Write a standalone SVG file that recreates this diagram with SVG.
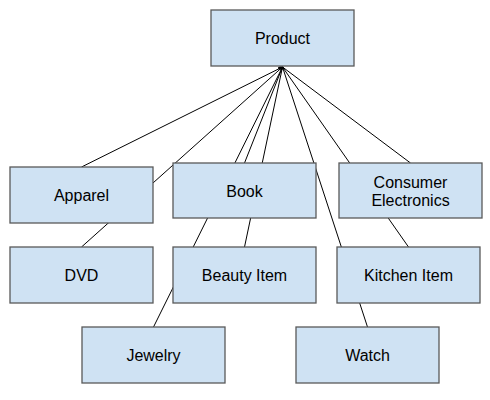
<svg xmlns="http://www.w3.org/2000/svg" width="490" height="400" viewBox="0 0 490 400">
<style>
.box{fill:#cfe2f3;stroke:#595959;stroke-width:1.3}
.lbl{font-family:"Liberation Sans",Arial,sans-serif;font-size:16px;fill:#000;text-anchor:middle}
.edge{stroke:#000;stroke-width:1;fill:none}
</style>
<rect width="490" height="400" fill="#fff"/>
<g id="connectors">
<line class="edge" x1="282.5" y1="67" x2="81.5" y2="167"/>
<line class="edge" x1="282.5" y1="67" x2="81.5" y2="247"/>
<line class="edge" x1="282.5" y1="67" x2="153.5" y2="327"/>
<line class="edge" x1="282.5" y1="67" x2="244.5" y2="163"/>
<line class="edge" x1="282.5" y1="67" x2="244.5" y2="247"/>
<line class="edge" x1="282.5" y1="67" x2="367.5" y2="327"/>
<line class="edge" x1="282.5" y1="67" x2="408.5" y2="247"/>
<line class="edge" x1="282.5" y1="67" x2="410.5" y2="163"/>
<ellipse cx="281" cy="68" rx="3" ry="1.8" fill="#000"/>
</g>
<g id="product"><rect class="box" x="211" y="10" width="143" height="56"/><text class="lbl" x="282.5" y="44">Product</text></g>
<g id="apparel"><rect class="box" x="10" y="167" width="143" height="56"/><text class="lbl" x="81.5" y="201">Apparel</text></g>
<g id="book"><rect class="box" x="173" y="163" width="143" height="55"/><text class="lbl" x="244.5" y="196.5">Book</text></g>
<g id="consumer-electronics"><rect class="box" x="339" y="163" width="143" height="55"/><text class="lbl" x="410.5" y="187.5">Consumer</text><text class="lbl" x="410.5" y="206">Electronics</text></g>
<g id="dvd"><rect class="box" x="10" y="247" width="143" height="56"/><text class="lbl" x="81.5" y="281">DVD</text></g>
<g id="beauty-item"><rect class="box" x="173" y="247" width="143" height="56"/><text class="lbl" x="244.5" y="281">Beauty Item</text></g>
<g id="kitchen-item"><rect class="box" x="337" y="247" width="143" height="56"/><text class="lbl" x="408.5" y="281">Kitchen Item</text></g>
<g id="jewelry"><rect class="box" x="82" y="327" width="143" height="56"/><text class="lbl" x="153.5" y="361">Jewelry</text></g>
<g id="watch"><rect class="box" x="296" y="327" width="143" height="56"/><text class="lbl" x="367.5" y="361">Watch</text></g>
</svg>
